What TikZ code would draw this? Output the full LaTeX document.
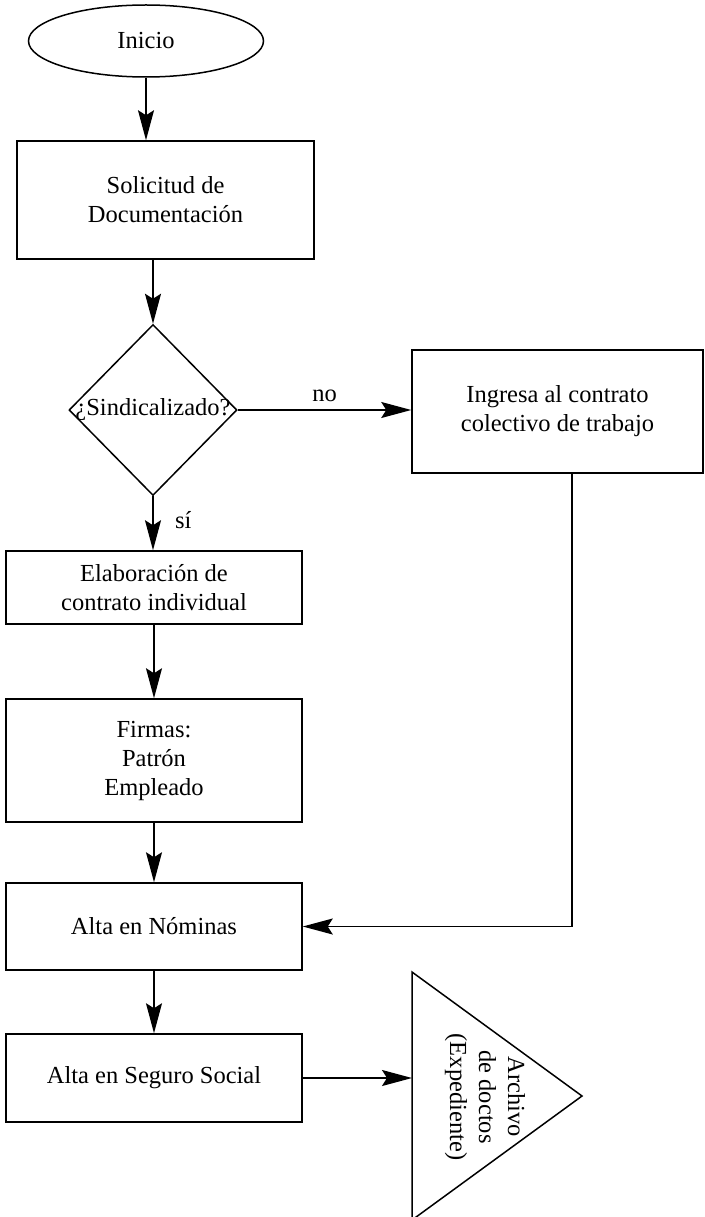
\documentclass[tikz,border=0pt]{standalone}
\usepackage{fontspec}
\setmainfont{Liberation Serif}
\usetikzlibrary{shapes.geometric,arrows.meta}
\tikzset{
  caja/.style={draw,line width=1.5pt,minimum width=296pt,align=center,inner sep=0pt},
  flecha/.style={-{Stealth[length=30pt,width=16pt,inset=5pt]},line width=1.5pt},
}
\begin{document}
\begin{tikzpicture}[x=1pt,y=-1pt,font=\fontsize{24.5}{29}\selectfont]
	\useasboundingbox (0,0) rectangle (704,1217);
	% columna principal
	\node[draw,ellipse,line width=1.5pt,minimum width=235pt,minimum height=72pt] (ini) at (146,41) {Inicio};
	\node[caja,minimum width=297pt,minimum height=118pt] (sol) at (165.5,200) {Solicitud de\\Documentaci\'on};
	\node[draw,diamond,line width=1.5pt,minimum width=168pt,minimum height=171pt,inner sep=0pt] (sind) at (153,410) {\makebox[0pt]{¿Sindicalizado?}};
	\node[caja,minimum width=291pt,minimum height=123pt] (ing) at (557.5,411.5) {Ingresa al contrato\\colectivo de trabajo};
	\node[caja,minimum height=73pt] (elab) at (154,587.5) {Elaboraci\'on de\\contrato individual};
	\node[caja,minimum height=123pt] (firm) at (154,760.5) {Firmas:\\Patr\'on\\Empleado};
	\node[caja,minimum height=87pt] (nom) at (154,926.5) {Alta en N\'ominas};
	\node[caja,minimum height=88pt] (seg) at (154,1078) {Alta en Seguro Social};
	% archivo
	\draw[line width=1.5pt,line join=miter] (412,972) -- (582,1096) -- (412,1220) -- cycle;
	\coordinate (arch) at (412,1078);
	\node[rotate=-90,align=center] (archtxt) at (485,1097) {Archivo\\de doctos\\(Expediente)};
	% flechas
	\draw[flecha] (ini) -- (ini |- sol.north);
	\draw[flecha] (sind.north |- sol.south) -- (sind.north);
	\draw[flecha] (sind.east) -- (ing.west |- sind.east) node[midway,above=4pt] (no) {no};
	\draw[flecha] (sind.south) -- (sind.south |- elab.north) node[pos=0.45,right=18pt] (si) {s\'i};
	\draw[flecha] (elab) -- (firm);
	\draw[flecha] (firm) -- (nom);
	\draw[flecha] (nom) -- (seg);
	\draw[flecha] ([xshift=14.5pt]ing.south) |- (nom.east);
	\draw[flecha] (seg.east) -- (arch);
\end{tikzpicture}
\end{document}
